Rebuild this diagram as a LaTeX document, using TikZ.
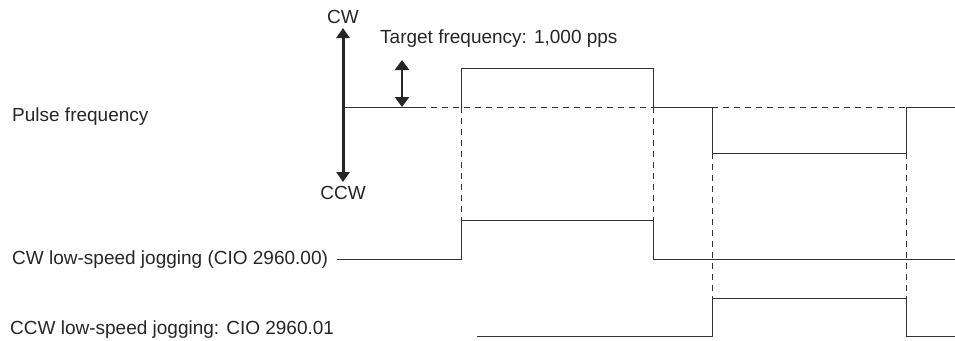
\documentclass[tikz,border=0pt]{standalone}
\usepackage{fontspec}
\setmainfont{Liberation Sans}
\usetikzlibrary{arrows.meta}
\begin{document}
\begin{tikzpicture}[x=1pt,y=-1pt,
  lbl/.style={inner sep=0pt,font=\fontsize{19}{22}\selectfont,text=black!85},
  wave/.style={line width=1pt,draw=black!80},
  guide/.style={line width=1pt,draw=black!80,dash pattern=on 6pt off 5pt},
  bigarrow/.style={line width=3pt,draw=black!85,{Triangle[length=10pt,width=13pt]}-{Triangle[length=10pt,width=13pt]}},
  smallarrow/.style={line width=2.6pt,draw=black!85,{Triangle[length=10pt,width=14pt]}-{Triangle[length=10pt,width=14pt]}}]
\useasboundingbox (0,0) rectangle (955,340);
% labels
\node[lbl,anchor=west] (pf) at (12,117) {Pulse frequency};
\node[lbl] (cw) at (343,17) {CW};
\node[lbl] (ccw) at (343,193) {CCW};
\node[lbl,anchor=west] (tf) at (380,39) {Target frequency: 1,000 pps};
\node[lbl,anchor=west] (cwj) at (12,260) {CW low-speed jogging (CIO 2960.00)};
\node[lbl,anchor=west] (ccwj) at (10,330) {CCW low-speed jogging: CIO 2960.01};
% coordinates
\coordinate (atop) at (343,28);
\coordinate (abot) at (343,182);
\coordinate (sat) at (402,60);
\coordinate (sab) at (402,107);
\coordinate (b0) at (343,107);
\coordinate (b1) at (420,107);
\coordinate (p1) at (461,107);
\coordinate (p2) at (461,68);
\coordinate (p3) at (653,68);
\coordinate (p4) at (653,107);
\coordinate (p5) at (712,107);
\coordinate (p6) at (712,153);
\coordinate (p7) at (906,153);
\coordinate (p8) at (906,107);
\coordinate (p9) at (955,107);
\coordinate (c0) at (337,259);
\coordinate (c1) at (461,259);
\coordinate (c2) at (461,220);
\coordinate (c3) at (653,220);
\coordinate (c4) at (653,259);
\coordinate (c5) at (955,259);
\coordinate (d0) at (477,336);
\coordinate (d1) at (712,336);
\coordinate (d2) at (712,298);
\coordinate (d3) at (906,298);
\coordinate (d4) at (906,336);
\coordinate (d5) at (955,336);
% guides
\draw[guide] (b1) -- (p5);
\draw[guide] (p5) -- (p8);
\draw[guide] (p1) -- (c2);
\draw[guide] (p4) -- (c3);
\draw[guide] (p6) -- (d2);
\draw[guide] (p7) -- (d3);
% waveforms
\draw[wave] (b0) -- (b1);
\draw[wave] (p1) -- (p2) -- (p3) -- (p4) -- (p5) -- (p6) -- (p7) -- (p8) -- (p9);
\draw[wave] (c0) -- (c1) -- (c2) -- (c3) -- (c4) -- (c5);
\draw[wave] (d0) -- (d1) -- (d2) -- (d3) -- (d4) -- (d5);
% arrows
\draw[bigarrow] (atop) -- (abot);
\draw[smallarrow] (sat) -- (sab);
\end{tikzpicture}
\end{document}
